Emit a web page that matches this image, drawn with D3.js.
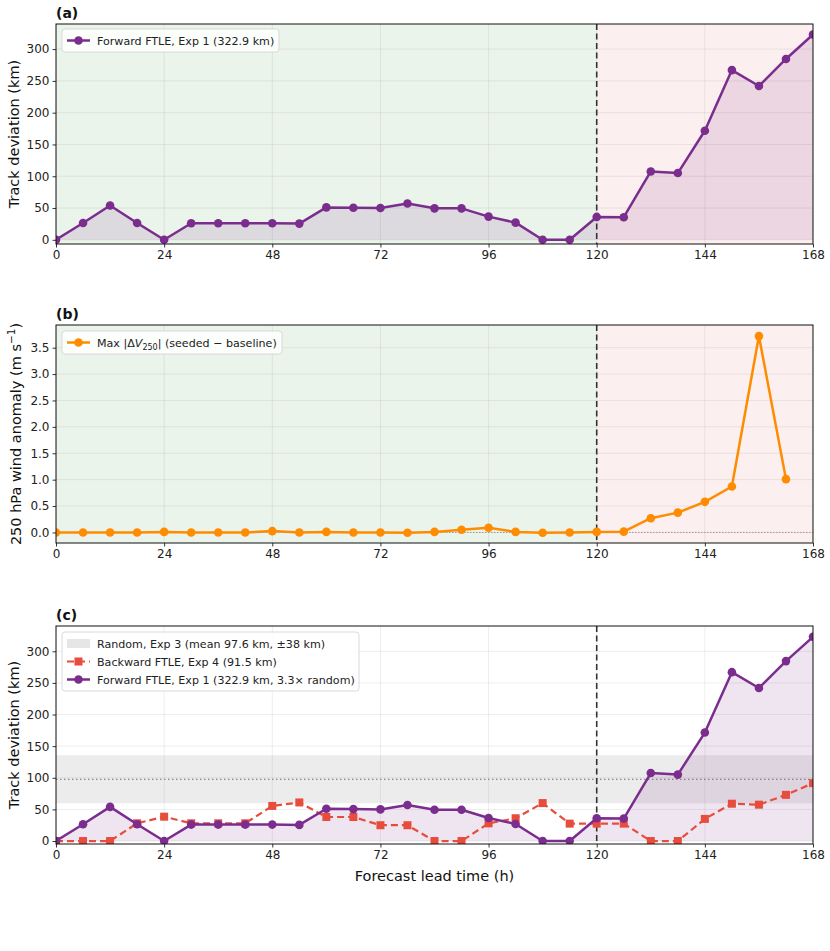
<!DOCTYPE html>
<html>
<head>
<meta charset="utf-8">
<script src="https://cdn.jsdelivr.net/npm/d3@7"></script>
<style>
  body { margin: 0; background: #fff; }
  svg { display: block; font-family: 'DejaVu Sans', sans-serif; }
</style>
</head>
<body>
<div id="chart"></div>
<script>
// lead times (h)
const hours = d3.range(0, 169, 6)
const xTicks = [0, 24, 48, 72, 96, 120, 144, 168]

// Forward FTLE, Exp 1 track deviation (km)
const forward = [0, 26.5, 54, 26.5, 0, 26, 26, 26, 26, 25.5, 51, 50.5, 50, 57, 49.5, 49.5, 36.5, 27, 0, 0,
  36, 35.5, 107.5, 105, 171.5, 267, 242, 284.5, 322.9]

// Backward FTLE, Exp 4 track deviation (km)
const backward = [0, 0, 0, 28, 38.5, 28, 28, 28, 55.5, 61, 38, 38, 25, 25, 0, 0, 28, 36, 60, 27.5,
  27.5, 27.5, 0, 0, 35, 59, 57.5, 73, 91.5]

// Max |dV250| (m/s), ends at 162 h
const windHours = d3.range(0, 163, 6)
const wind = [0, 0, 0, 0, 0.01, 0, 0, 0, 0.025, 0, 0.01, 0, 0, -0.005, 0.01, 0.05, 0.09, 0.01, -0.005, 0,
  0.01, 0.015, 0.27, 0.375, 0.58, 0.87, 3.72, 1.01]

const randomMean = 97.6
const randomSpread = 38
const cutoff = 120

const kmTicks = [0, 50, 100, 150, 200, 250, 300]
const windTicks = [0, 0.5, 1, 1.5, 2, 2.5, 3, 3.5]

const W = 830, H = 951
const left = 56, right = 813
const PURPLE = '#7b2d8e', ORANGE = '#ff8c00', RED = '#e74c3c'

const svg = d3.select('#chart').append('svg').attr('width', W).attr('height', H)

const x = d3.scaleLinear().domain([0, 168]).range([left, right])

function panel(opts) {
  const { top, bottom, domain, yTicks, yFmt, label, shade } = opts
  const y = d3.scaleLinear().domain(domain).range([bottom, top])
  const g = svg.append('g')
  const clipId = 'clip-' + label
  g.append('clipPath').attr('id', clipId).append('rect')
    .attr('x', left).attr('y', top).attr('width', right - left).attr('height', bottom - top)
  const plot = g.append('g').attr('clip-path', `url(#${clipId})`)

  if (shade) {
    plot.append('rect').attr('x', x(0)).attr('y', top).attr('width', x(cutoff) - x(0)).attr('height', bottom - top)
      .attr('fill', '#ebf4eb')
    plot.append('rect').attr('x', x(cutoff)).attr('y', top).attr('width', x(168) - x(cutoff)).attr('height', bottom - top)
      .attr('fill', '#fcefef')
  }

  // grid
  plot.selectAll('.gx').data(xTicks).join('line')
    .attr('x1', d => x(d)).attr('x2', d => x(d)).attr('y1', top).attr('y2', bottom)
    .attr('stroke', '#000').attr('stroke-opacity', 0.09).attr('stroke-width', 0.8)
  plot.selectAll('.gy').data(yTicks).join('line')
    .attr('x1', left).attr('x2', right).attr('y1', d => y(d)).attr('y2', d => y(d))
    .attr('stroke', '#000').attr('stroke-opacity', 0.09).attr('stroke-width', 0.8)

  // axes
  const ax = g.append('g').attr('transform', `translate(0,${bottom})`)
    .call(d3.axisBottom(x).tickValues(xTicks).tickSize(3.5).tickPadding(3).tickFormat(d3.format('d')))
  const ay = g.append('g').attr('transform', `translate(${left},0)`)
    .call(d3.axisLeft(y).tickValues(yTicks).tickSize(3.5).tickPadding(3).tickFormat(yFmt))
  ;[ax, ay].forEach(a => {
    a.select('.domain').remove()
    a.selectAll('.tick line').attr('stroke', '#000').attr('stroke-width', 0.8)
    a.selectAll('.tick text').attr('fill', '#222').style('font-size', '12px').style('font-family', 'DejaVu Sans')
  })

  g.append('rect').attr('x', left).attr('y', top).attr('width', right - left).attr('height', bottom - top)
    .attr('fill', 'none').attr('stroke', '#111').attr('stroke-width', 1)

  g.append('text').attr('x', left).attr('y', top - 6).text(`(${label})`)
    .style('font-size', '14px').style('font-weight', 'bold').attr('fill', '#111')

  const yl = g.append('text')
    .attr('transform', `translate(${opts.ylabX},${(top + bottom) / 2}) rotate(-90)`)
    .attr('text-anchor', 'middle').style('font-size', '14.5px').attr('fill', '#111')
  opts.ylab(yl)

  return { g, plot, y }
}

function cutoffLine(p, top, bottom) {
  p.plot.append('line').attr('x1', x(cutoff)).attr('x2', x(cutoff)).attr('y1', top).attr('y2', bottom)
    .attr('stroke', '#333').attr('stroke-width', 1.6).attr('stroke-dasharray', '6,3.5')
}

function drawSeries(plot, xs, ys, y, color, opts = {}) {
  const pts = xs.map((h, i) => [h, ys[i]])
  const line = d3.line().x(d => x(d[0])).y(d => y(d[1]))
  plot.append('path').datum(pts).attr('d', line).attr('fill', 'none')
    .attr('stroke', color).attr('stroke-width', opts.width || 2.5)
    .attr('stroke-dasharray', opts.dash || null).attr('stroke-linejoin', 'round')
  if (opts.square) {
    plot.selectAll(null).data(pts).join('rect')
      .attr('x', d => x(d[0]) - 4).attr('y', d => y(d[1]) - 4).attr('width', 8).attr('height', 8)
      .attr('fill', color)
  } else {
    plot.selectAll(null).data(pts).join('circle')
      .attr('cx', d => x(d[0])).attr('cy', d => y(d[1])).attr('r', 4.3).attr('fill', color)
  }
}

function legend(g, x0, y0, w, rows) {
  const lg = g.append('g')
  lg.append('rect').attr('x', x0).attr('y', y0).attr('width', w).attr('height', rows.length * 18 + 5)
    .attr('rx', 3).attr('fill', '#fff').attr('fill-opacity', 0.85).attr('stroke', '#d0d0d0').attr('stroke-width', 0.8)
  rows.forEach((r, i) => {
    const cy = y0 + 11.5 + i * 18
    if (r.type === 'band') {
      lg.append('rect').attr('x', x0 + 5).attr('y', cy - 4.5).attr('width', 23).attr('height', 9)
        .attr('fill', '#e6e6e6')
    } else {
      lg.append('line').attr('x1', x0 + 5).attr('x2', x0 + 28).attr('y1', cy).attr('y2', cy)
        .attr('stroke', r.color).attr('stroke-width', r.width || 2.5).attr('stroke-dasharray', r.dash || null)
      if (r.square) lg.append('rect').attr('x', x0 + 12.5).attr('y', cy - 4).attr('width', 8).attr('height', 8).attr('fill', r.color)
      else lg.append('circle').attr('cx', x0 + 16.5).attr('cy', cy).attr('r', 4.3).attr('fill', r.color)
    }
    const t = lg.append('text').attr('x', x0 + 35).attr('y', cy + 4).style('font-size', '11.1px').attr('fill', '#222')
    if (r.html) r.html(t)
    else t.text(r.label)
  })
}

const kmLabel = t => t.text('Track deviation (km)')

// ---- panel (a)
const a = panel({ top: 24, bottom: 244, domain: [-6.6, 339.5], yTicks: kmTicks, yFmt: d3.format('d'),
  label: 'a', ylab: kmLabel, shade: true, ylabX: 19 })
a.plot.append('path').datum(hours.map((h, i) => [h, forward[i]]))
  .attr('d', d3.area().x(d => x(d[0])).y0(a.y(0)).y1(d => a.y(d[1])))
  .attr('fill', PURPLE).attr('fill-opacity', 0.13)
cutoffLine(a, 24, 244)
drawSeries(a.plot, hours, forward, a.y, PURPLE)
legend(a.g, 62, 29, 217, [{ color: PURPLE, label: 'Forward FTLE, Exp 1 (322.9 km)' }])

// ---- panel (b)
const b = panel({ top: 325, bottom: 543, domain: [-0.2, 3.93], yTicks: windTicks, yFmt: d3.format('.1f'),
  label: 'b', shade: true, ylabX: 21, ylab: t => {
    t.append('tspan').text('250 hPa wind anomaly (m s')
    t.append('tspan').attr('dy', -6).style('font-size', '10.5px').text('\u22121')
    t.append('tspan').attr('dy', 6).text(')')
  } })
b.plot.append('line').attr('x1', left).attr('x2', right).attr('y1', b.y(0)).attr('y2', b.y(0))
  .attr('stroke', '#999').attr('stroke-width', 1).attr('stroke-dasharray', '1.5,1.5')
cutoffLine(b, 325, 543)
drawSeries(b.plot, windHours, wind, b.y, ORANGE)
legend(b.g, 62, 331, 220, [{ color: ORANGE, html: t => {
  t.append('tspan').text('Max |\u0394')
  t.append('tspan').style('font-style', 'italic').text('V')
  t.append('tspan').attr('dy', 3).style('font-size', '8px').text('250')
  t.append('tspan').attr('dy', -3).text('| (seeded \u2212 baseline)')
} }])

// ---- panel (c)
const c = panel({ top: 626, bottom: 844, domain: [-4.7, 340], yTicks: kmTicks, yFmt: d3.format('d'),
  label: 'c', ylab: kmLabel, shade: false, ylabX: 19 })
c.plot.append('rect').attr('x', left).attr('width', right - left)
  .attr('y', c.y(randomMean + randomSpread)).attr('height', c.y(randomMean - randomSpread) - c.y(randomMean + randomSpread))
  .attr('fill', '#808080').attr('fill-opacity', 0.15)
c.plot.append('line').attr('x1', left).attr('x2', right).attr('y1', c.y(randomMean)).attr('y2', c.y(randomMean))
  .attr('stroke', '#888').attr('stroke-width', 1.2).attr('stroke-dasharray', '1.5,2.5')
c.plot.append('path').datum(hours.map((h, i) => [h, forward[i]]))
  .attr('d', d3.area().x(d => x(d[0])).y0(c.y(0)).y1(d => c.y(d[1])))
  .attr('fill', PURPLE).attr('fill-opacity', 0.12)
cutoffLine(c, 626, 844)
drawSeries(c.plot, hours, backward, c.y, RED, { dash: '7,4', width: 2.2, square: true })
drawSeries(c.plot, hours, forward, c.y, PURPLE)
legend(c.g, 62, 632, 297, [
  { type: 'band', label: 'Random, Exp 3 (mean 97.6 km, \u00B138 km)' },
  { color: RED, dash: '7,4', width: 2.2, square: true, label: 'Backward FTLE, Exp 4 (91.5 km)' },
  { color: PURPLE, label: 'Forward FTLE, Exp 1 (322.9 km, 3.3\u00D7 random)' }
])

svg.append('text').attr('x', (left + right) / 2).attr('y', 881).attr('text-anchor', 'middle')
  .style('font-size', '14.5px').attr('fill', '#111').text('Forecast lead time (h)')
</script>
</body>
</html>
